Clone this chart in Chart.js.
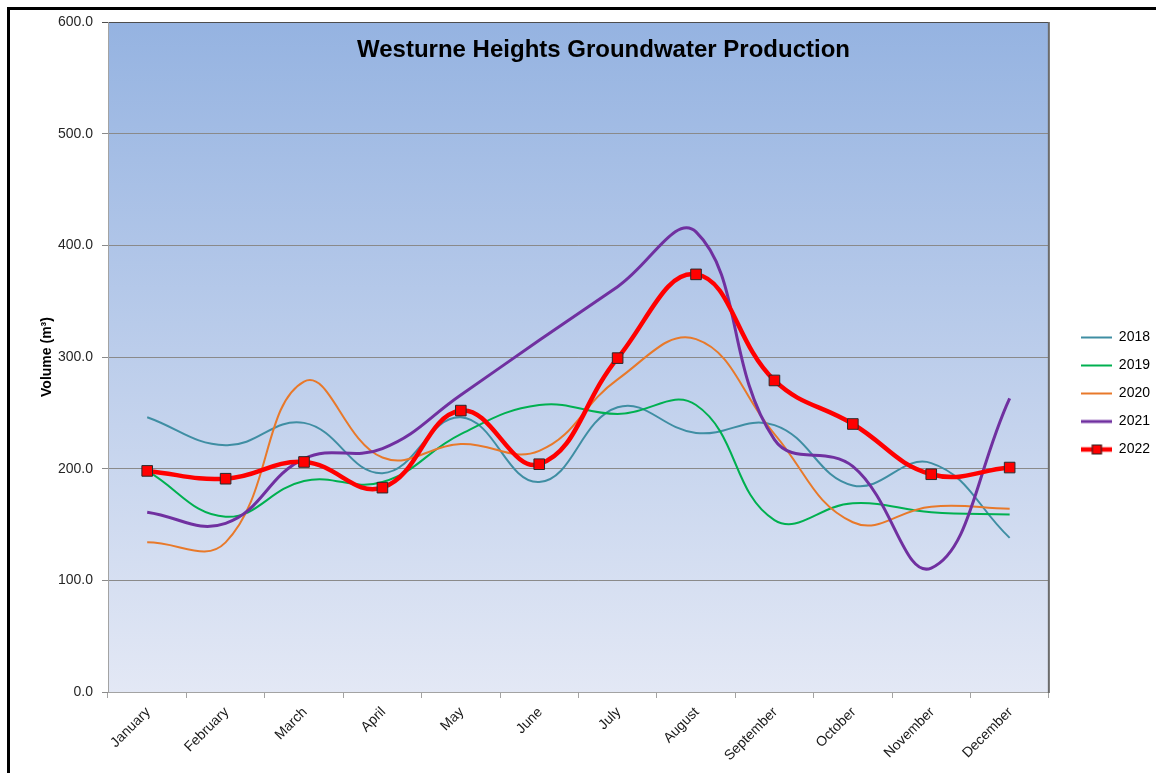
<!DOCTYPE html>
<html lang="en">
<head>
  <meta charset="UTF-8" />
  <title>Westurne Heights Groundwater Production</title>
  <script src="https://cdn.jsdelivr.net/npm/chart.js@4.4.1/dist/chart.umd.min.js"></script>
  <style>
    html, body {
      margin: 0;
      padding: 0;
      background: #fff;
      overflow: hidden;
    }
    .frame {
      position: absolute;
      left: 7px;
      top: 7px;
      width: 1160px;
      height: 775px;
      border-left: 3px solid #000;
      border-top: 3px solid #000;
      background: #fff;
    }
    .chart-box {
      position: absolute;
      left: 0;
      top: 0;
      width: 1146px;
      height: 763px;
    }
  </style>
</head>
<body>
  <div class="frame">
    <div class="chart-box">
      <canvas id="waterChart"></canvas>
    </div>
  </div>

  <script>
    // values (m³)
    const months = ['January', 'February', 'March', 'April', 'May', 'June',
                    'July', 'August', 'September', 'October', 'November', 'December'];
    const years = ['2018', '2019', '2020', '2021', '2022'];
    const vol2018 = [246, 221, 241, 196, 246, 188, 255, 232, 239, 185, 205, 138];
    const vol2019 = [198, 157, 189, 188, 231, 257, 249, 257, 154, 169, 161, 159];
    const vol2020 = [134, 134, 278, 210, 222, 216, 280, 316, 231, 152, 166, 164];
    const vol2021 = [161, 151, 209, 218, 266, 315, 363, 412, 226, 202, 111, 263];
    const vol2022 = [198, 191, 206, 183, 252, 204, 299, 374, 279, 240, 195, 201];
    const yTicks = [0, 100, 200, 300, 400, 500, 600];

    const colors = ['#3f8ea3', '#00b050', '#e8792a', '#7030a0', '#ff0000'];
    const widths = [2, 2, 2, 3, 4.5];

    // little legend swatches: a line, plus the square marker for 2022
    function makeSwatch(color, width, marker) {
      const c = document.createElement('canvas');
      c.width = 31;
      c.height = 12;
      const g = c.getContext('2d');
      g.strokeStyle = color;
      g.lineWidth = width;
      g.beginPath();
      g.moveTo(0, 6);
      g.lineTo(31, 6);
      g.stroke();
      if (marker) {
        g.fillStyle = '#ff0000';
        g.fillRect(10.5, 1, 10, 10);
        g.strokeStyle = '#222';
        g.lineWidth = 1;
        g.strokeRect(11, 1.5, 9, 9);
      }
      return c;
    }
    const swatches = years.map((y, i) => makeSwatch(colors[i], widths[i], i === 4));

    const plotDecor = {
      id: 'plotDecor',
      afterLayout(chart) {
        // push legend items a bit further right, like the original
        const l = chart.legend;
        const dx = (chart.chartArea.right + 33) - (l.left + 14);
        l.left += dx;
        l.right += dx;
        l.top -= 4;
        l.bottom -= 4;
      },
      beforeDraw(chart) {
        const { ctx, chartArea: a } = chart;
        const g = ctx.createLinearGradient(0, a.top, 0, a.bottom);
        g.addColorStop(0, '#95b3e1');
        g.addColorStop(1, '#e3e8f5');
        ctx.save();
        ctx.fillStyle = g;
        ctx.fillRect(a.left, a.top, a.right - a.left, a.bottom - a.top);
        ctx.restore();
      },
      beforeDatasetsDraw(chart) {
        const { ctx, chartArea: a } = chart;
        ctx.save();
        ctx.font = 'bold 24px "Liberation Sans", Arial, sans-serif';
        ctx.fillStyle = '#000';
        ctx.textAlign = 'center';
        ctx.textBaseline = 'alphabetic';
        ctx.fillText('Westurne Heights Groundwater Production', a.left + 495.5, a.top + 35);
        ctx.restore();
      },
      afterDatasetsDraw(chart) {
        const { ctx, chartArea: a } = chart;
        ctx.save();
        ctx.strokeStyle = '#6b6b6b';
        ctx.lineWidth = 2;
        ctx.beginPath();
        ctx.moveTo(a.right, a.top);
        ctx.lineTo(a.right, a.bottom + 1);
        ctx.stroke();
        ctx.restore();
      }
    };

    const series = [vol2018, vol2019, vol2020, vol2021, vol2022];

    const chart = new Chart(document.getElementById('waterChart'), {
      type: 'line',
      data: {
        labels: months,
        datasets: series.map((vals, i) => ({
          label: years[i],
          data: vals,
          borderColor: colors[i],
          backgroundColor: colors[i],
          borderWidth: widths[i],
          tension: 0.42,
          fill: false,
          order: 4 - i,
          pointRadius: i === 4 ? 7.5 : 0,
          pointHoverRadius: i === 4 ? 7.5 : 0,
          pointStyle: 'rect',
          pointBackgroundColor: '#ff0000',
          pointBorderColor: '#2a2a2a',
          pointBorderWidth: 1
        }))
      },
      options: {
        responsive: true,
        maintainAspectRatio: false,
        animation: false,
        layout: { padding: { top: 12, right: 15, bottom: 0, left: 0 } },
        scales: {
          x: {
            offset: true,
            grid: {
              offset: true,
              drawOnChartArea: false,
              tickLength: 6,
              color: '#a3a3a3'
            },
            border: { color: '#a3a3a3', width: 1 },
            ticks: {
              minRotation: 45,
              maxRotation: 45,
              padding: 6,
              labelOffset: 1,
              color: '#1a1a1a',
              font: { family: '"Liberation Sans", Arial, sans-serif', size: 14 }
            },
            afterFit(scale) { scale.height = 81; }
          },
          y: {
            min: 0,
            max: 600,
            afterBuildTicks(scale) { scale.ticks = yTicks.map(v => ({ value: v })); },
            grid: {
              tickLength: 6,
              color: ctx => (ctx.tick && ctx.tick.value === 600 ? '#4d4d4d' : '#8a8a8a')
            },
            border: { color: '#a3a3a3', width: 1 },
            ticks: {
              padding: 9,
              color: '#262626',
              font: { family: '"Liberation Sans", Arial, sans-serif', size: 14 },
              callback: v => Number(v).toFixed(1)
            },
            title: {
              display: true,
              text: 'Volume (m³)',
              color: '#000',
              padding: { top: 29, bottom: 0 },
              font: { family: '"Liberation Sans", Arial, sans-serif', size: 14, weight: 'bold' }
            },
            afterFit(scale) {
              scale.width = 98;
              scale.paddingTop = 0;
              scale.paddingBottom = 0;
            }
          }
        },
        plugins: {
          title: { display: false },
          tooltip: { enabled: false },
          legend: {
            position: 'right',
            align: 'center',
            labels: {
              usePointStyle: true,
              pointStyleWidth: 30,
              boxHeight: 12,
              padding: 14,
              color: '#000',
              font: { family: '"Liberation Sans", Arial, sans-serif', size: 14 },
              generateLabels: ch => ch.data.datasets.map((ds, i) => ({
                text: ds.label,
                datasetIndex: i,
                pointStyle: swatches[i],
                fillStyle: 'transparent',
                strokeStyle: 'transparent',
                lineWidth: 0,
                fontColor: '#000',
                hidden: false
              }))
            }
          }
        }
      },
      plugins: [plotDecor]
    });
  </script>
</body>
</html>
